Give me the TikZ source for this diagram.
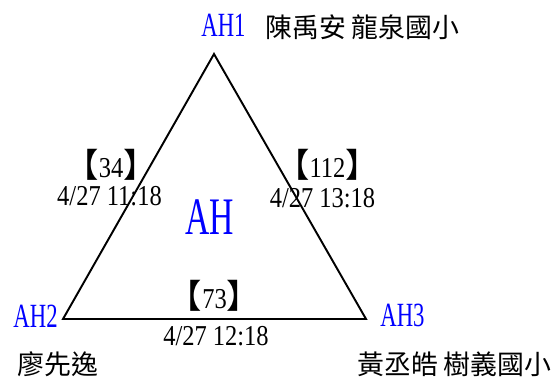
\documentclass[tikz,border=0pt]{standalone}
\usepackage{fontspec}
\usepackage{tikz}
\usetikzlibrary{positioning}
\newfontfamily\lblfont[FakeStretch=0.67]{Liberation Serif}
\newfontfamily\bigfont[FakeStretch=0.64]{Liberation Serif}
\newfontfamily\datefont[FakeStretch=0.85]{Liberation Serif}
\newfontfamily\cjkfont{Noto Sans CJK TC}
\newfontfamily\brfont[RawFeature=+halt]{Noto Sans CJK TC}
\newcommand{\brk}[1]{{\brfont\fontsize{19}{20}\selectfont 【}{\datefont #1}{\brfont\fontsize{19}{20}\selectfont 】}}
\tikzset{
  vlabel/.style={text=blue, inner sep=0, font=\lblfont\fontsize{19.3}{20}\selectfont},
  grplabel/.style={text=blue, inner sep=0, font=\bigfont\fontsize{30}{32}\selectfont},
  edgecount/.style={inner sep=0, anchor=base, font=\fontsize{16.4}{18}\selectfont},
  edgetime/.style={inner sep=0, anchor=base, font=\datefont\fontsize{16.4}{18}\selectfont},
  who/.style={inner sep=0, anchor=west, font=\cjkfont\fontsize{15.3}{17}\selectfont},
}
\begin{document}
\begin{tikzpicture}[x=0.02cm, y=-0.02cm]
		\useasboundingbox (0,0) rectangle (554,376);
		% Triangle corners and sides:
		\coordinate (V1) at (214, 54);
		\coordinate (V2) at (63, 319);
		\coordinate (V3) at (366, 319);
		\draw[line width=1.1pt, line join=miter] (V1) -- (V2) -- (V3) -- cycle;
		% Corner labels:
		\node[vlabel, anchor=base west](N1) at (201, 36){AH1};
		\node[vlabel, anchor=base east](N2) at (58, 327){AH2};
		\node[vlabel, anchor=base west](N3) at (380, 326){AH3};
		\node[grplabel, anchor=base](N4) at (209.5, 234){AH};
		\node[who](N5) at (265, 27){陳禹安 龍泉國小};
		\node[who](N6) at (17, 364){廖先逸};
		\node[who](N7) at (357, 364){黃丞皓 樹義國小};
		% Side labels:
		\node[edgecount](N8) at (111, 177){\brk{34}};
		\node[edgetime](N9) at (109.5, 205){4/27 11:18};
		\node[edgecount](N10) at (327.5, 177){\brk{112}};
		\node[edgetime](N11) at (322.5, 207){4/27 13:18};
		\node[edgecount](N12) at (214.5, 308){\brk{73}};
		\node[edgetime](N13) at (216, 345){4/27 12:18};
	\end{tikzpicture}
\end{document}
